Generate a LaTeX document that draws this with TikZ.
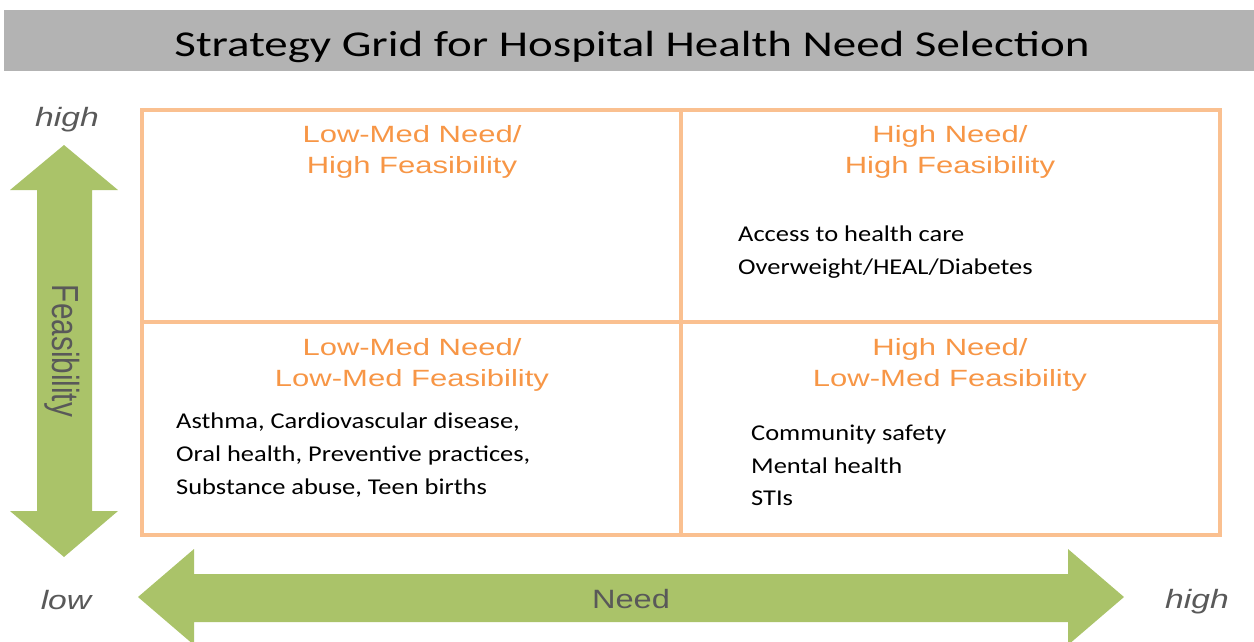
\documentclass[tikz,border=0pt]{standalone}
\usepackage{fontspec}
\setmainfont{Carlito}
\newfontfamily\arialf{Liberation Sans}
\newfontfamily\calibrif{Carlito}
\definecolor{titlegray}{RGB}{179,179,179}
\definecolor{gridorange}{RGB}{250,192,144}
\definecolor{hdrorange}{RGB}{247,150,70}
\definecolor{arrgreen}{RGB}{170,195,105}
\definecolor{axgray}{RGB}{89,89,89}
\newcommand{\sxa}[1]{\scalebox{1.27}[1]{#1}}
\newcommand{\sxh}[1]{\scalebox{1.32}[1]{#1}}
\newcommand{\sxb}[1]{\scalebox{1.17}[1]{#1}}
\tikzset{
  titletext/.style={font=\calibrif\fontsize{36.4}{40}\selectfont, inner sep=0pt, anchor=base},
  hdr/.style={text=hdrorange, font=\arialf\fontsize{23.5}{27}\selectfont, inner sep=0pt, anchor=base},
  bodytext/.style={text=black, font=\calibrif\fontsize{22.6}{26}\selectfont, inner sep=0pt, anchor=base west},
  axislbl/.style={text=axgray, font=\arialf\fontsize{26.5}{30}\selectfont, inner sep=0pt, anchor=base},
  endlbl/.style={text=axgray, font=\arialf\itshape\fontsize{26.5}{30}\selectfont, inner sep=0pt, anchor=base},
  gridline/.style={draw=gridorange, line width=4.5pt},
  greenarrow/.style={fill=arrgreen, draw=none}
}
\begin{document}
\begin{tikzpicture}[x=1pt,y=-1pt]
\useasboundingbox (0,0) rectangle (1254,641);
\clip (0,0) rectangle (1254,641);
% title bar
\fill[titlegray] (4,10) rectangle (1254,71);
\node[titletext] (title) at (632,56) {\scalebox{1.29}[1]{Strategy Grid for Hospital Health Need Selection}};
% grid
\draw[gridline] (142,110) rectangle (1220,535);
\draw[gridline] (681,110) -- (681,535);
\draw[gridline] (142,322) -- (1220,322);
% vertical arrow
\fill[greenarrow] (64,145) -- (118,190) -- (92,190) -- (92,511) -- (118,511) -- (64,557)
  -- (10,511) -- (37,511) -- (37,190) -- (10,190) -- cycle;
% horizontal arrow
\fill[greenarrow] (138,597) -- (194,549) -- (194,574) -- (1068,574) -- (1068,549) -- (1124,597)
  -- (1068,645) -- (1068,622) -- (194,622) -- (194,645) -- cycle;
% axis labels
\node[text=axgray, font=\arialf\fontsize{29.7}{33}\selectfont, inner sep=0pt] (feas) at (62,351)
  {\scalebox{1.27}[1]{\rotatebox{-90}{Feasibility}}};
\node[axislbl] (need) at (631,608) {\scalebox{1.23}[1]{Need}};
\node[endlbl] (vhigh) at (67,126) {\sxa{high}};
\node[endlbl] (vlow) at (66,609) {\sxa{low}};
\node[endlbl] (hhigh) at (1197,608) {\sxa{high}};
% quadrant headers
\node[hdr] (tl1) at (412,142) {\sxh{Low-Med Need/}};
\node[hdr] (tl2) at (412,173) {\sxh{High Feasibility}};
\node[hdr] (tr1) at (950,142) {\sxh{High Need/}};
\node[hdr] (tr2) at (950,173) {\sxh{High Feasibility}};
\node[hdr] (bl1) at (412,355) {\sxh{Low-Med Need/}};
\node[hdr] (bl2) at (412,386) {\sxh{Low-Med Feasibility}};
\node[hdr] (br1) at (950,355) {\sxh{High Need/}};
\node[hdr] (br2) at (950,386) {\sxh{Low-Med Feasibility}};
% body texts
\node[bodytext] (tra) at (738,241) {\sxb{Access to health care}};
\node[bodytext] (trb) at (738,274) {\sxb{Overweight/HEAL/Diabetes}};
\node[bodytext] (bla) at (176,428) {\sxb{Asthma, Cardiovascular disease,}};
\node[bodytext] (blb) at (176,461) {\sxb{Oral health, Preventive practices,}};
\node[bodytext] (blc) at (176,494) {\sxb{Substance abuse, Teen births}};
\node[bodytext] (bra) at (751,440) {\sxb{Community safety}};
\node[bodytext] (brb) at (751,473) {\sxb{Mental health}};
\node[bodytext] (brc) at (751,505) {\sxb{STIs}};
\end{tikzpicture}
\end{document}
